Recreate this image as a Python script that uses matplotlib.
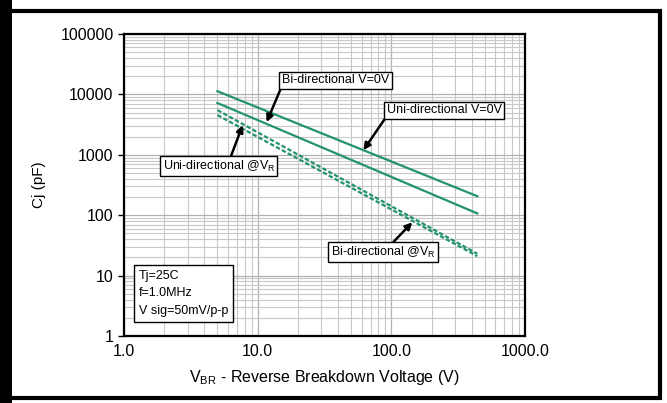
import numpy as np
import matplotlib.pyplot as plt
from matplotlib.patches import Rectangle

plt.rcParams['font.family'] = ['Liberation Sans', 'DejaVu Sans']
plt.rcParams['mathtext.default'] = 'regular'

# 数据 (从图上读取的端点)
v_br = [5, 440]
bi_0v = [11300, 206]
uni_0v = [7200, 107]
uni_vr = [5500, 23]
bi_vr = [4550, 21]

x_ticks = [1, 10, 100, 1000]
x_labels = ['1.0', '10.0', '100.0', '1000.0']
y_ticks = [1, 10, 100, 1000, 10000, 100000]
y_labels = ['1', '10', '100', '1000', '10000', '100000']

green = '#22946a'


def px(x, y):
    """像素位置 -> 数据坐标 (仅用于标注位置)"""
    return 10 ** ((x - 124) / 134), 10 ** (5 - (y - 34) / 60.3)


fig = plt.figure(figsize=(6.67, 4.03), dpi=100)
ax = fig.add_axes([124 / 667, 1 - 336 / 403, 401 / 667, 302 / 403])

ax.plot(v_br, bi_0v, color=green, lw=1.6)
ax.plot(v_br, uni_0v, color=green, lw=1.6)
ax.plot(v_br, uni_vr, color=green, lw=1.6, ls=(0, (2, 1)))
ax.plot(v_br, bi_vr, color=green, lw=1.6, ls=(0, (2, 1)))

ax.set_xscale('log')
ax.set_yscale('log')
ax.set_xlim(1, 1000)
ax.set_ylim(1, 100000)
ax.set_xticks(x_ticks)
ax.set_xticklabels(x_labels, fontsize=11.5)
ax.set_yticks(y_ticks)
ax.set_yticklabels(y_labels, fontsize=11.5)
ax.tick_params(axis='x', length=0, pad=6)
ax.tick_params(axis='y', which='major', length=4, width=1)
ax.tick_params(which='minor', length=0)
ax.grid(True, which='major', color='#b0b0b0', lw=0.9)
ax.grid(True, which='minor', color='#c8c8c8', lw=0.8)
for s in ax.spines.values():
    s.set_linewidth(1.6)

ax.set_xlabel(r'V$_{BR}$ - Reverse Breakdown Voltage (V)', fontsize=11.5, labelpad=6)
ax.set_ylabel('Cj (pF)', fontsize=11, labelpad=10)

box = dict(boxstyle='square,pad=0.2', fc='white', ec='black', lw=1)


def arrow(rx, ry):
    return dict(arrowstyle='-|>', color='black', lw=1.8, mutation_scale=10,
                relpos=(rx, ry), shrinkA=0, shrinkB=0)


ax.annotate('Bi-directional V=0V', xy=px(267, 122), xytext=px(336, 80),
            fontsize=9, bbox=box, arrowprops=arrow(0.0, 0.0), va='center', ha='center')
ax.annotate('Uni-directional V=0V', xy=px(364, 150), xytext=px(445, 110),
            fontsize=9, bbox=box, arrowprops=arrow(0.0, 0.0), va='center', ha='center')
ax.annotate(r'Uni-directional @V$_R$', xy=px(243, 125), xytext=px(219, 166),
            fontsize=9, bbox=box, arrowprops=arrow(0.6, 1.0), va='center', ha='center')
ax.annotate(r'Bi-directional @V$_R$', xy=px(413, 222), xytext=px(384, 252),
            fontsize=9, bbox=box, arrowprops=arrow(0.57, 1.0), va='center', ha='center')

ax.text(*px(139, 293), 'Tj=25C\nf=1.0MHz\nV sig=50mV/p-p', fontsize=9,
        va='center', ha='left', linespacing=1.6,
        bbox=dict(boxstyle='square,pad=0.4', fc='white', ec='black', lw=1))

# 外框
fig.patches.append(Rectangle((0, 0), 12 / 667, 1, transform=fig.transFigure,
                             fc='black', ec='none'))
fig.patches.append(Rectangle((8 / 667, 5 / 403), 652 / 667, 387 / 403,
                             transform=fig.transFigure, fill=False, ec='black', lw=3))

fig.savefig('out.png', dpi=100)
